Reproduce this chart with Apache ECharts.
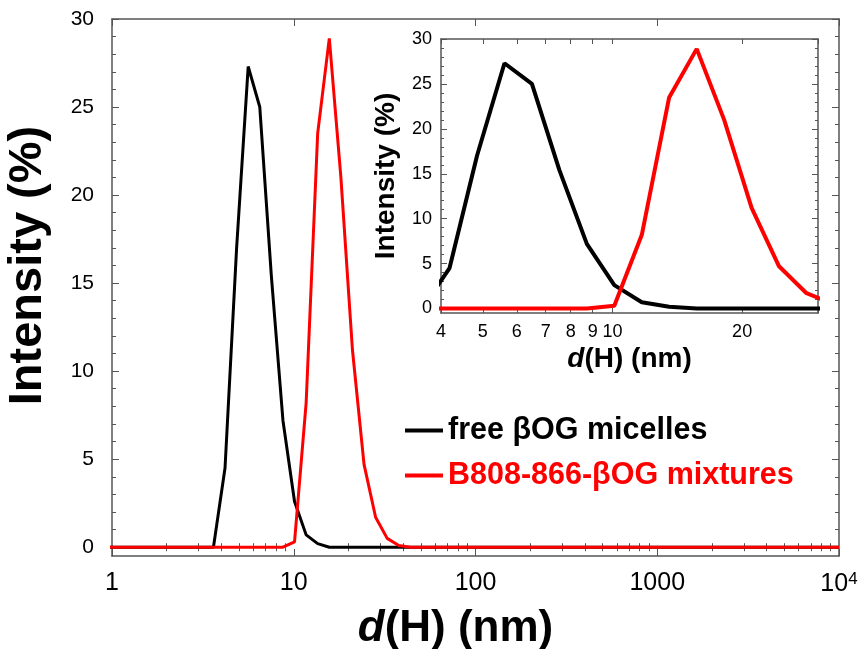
<!DOCTYPE html>
<html><head><meta charset="utf-8">
<script src="https://cdn.jsdelivr.net/npm/echarts@6/dist/echarts.min.js"></script>
<style>html,body{margin:0;padding:0;background:#fff}#c{width:862px;height:649px}</style>
</head><body><div id="c"></div>
<script>
// DLS size bins (nm)
const diameters = [0.4,0.4632,0.5365,0.6213,0.7195,0.8332,0.9649,1.117,1.294,1.499,1.736,2.01,2.328,2.696,3.122,3.615,4.187,4.849,5.615,6.503,7.531,8.721,10.1,11.7,13.54,15.69,18.17,21.04,24.36,28.21,32.67,37.84,43.82,50.75,58.77,68.06,78.82,91.28,105.7,122.4,141.8,164.2,190.1,220.2,255,295.3,342,396.1,458.7,531.2,615.1,712.4,825,955.4,1106,1281,1484,1718,1990,2305,2669,3091,3580,4145,4801,5560,6439,7456,8635,10000];
// Intensity (%) — free βOG micelles
const freeMicelles = [0,0,0,0,0,0,0,0,0,0,0,0,0,0,0,0,4.5,17.0,27.3,25.0,15.4,7.2,2.6,0.7,0.2,0,0,0,0,0,0,0,0,0,0,0,0,0,0,0,0,0,0,0,0,0,0,0,0,0,0,0,0,0,0,0,0,0,0,0,0,0,0,0,0,0,0,0,0,0];
// Intensity (%) — B808-866-βOG mixtures
const mixtures = [0,0,0,0,0,0,0,0,0,0,0,0,0,0,0,0,0,0,0,0,0,0,0.3,8.2,23.5,28.9,21.0,11.2,4.7,1.7,0.5,0.1,0,0,0,0,0,0,0,0,0,0,0,0,0,0,0,0,0,0,0,0,0,0,0,0,0,0,0,0,0,0,0,0,0,0,0,0,0,0];
const seriesNames = ['free βOG micelles', 'B808-866-βOG mixtures'];
const mainXTicks = [1, 10, 100, 1000, 10000];
const mainYTicks = [0, 5, 10, 15, 20, 25, 30];
const insetXTicks = [4, 5, 6, 7, 8, 9, 10, 20];
const insetYTicks = [0, 5, 10, 15, 20, 25, 30];

const FF = 'Liberation Sans, Arial, Helvetica, sans-serif';
const FRAME = '#555';

const mainXMinor = [];
for (let dec = 1; dec < 10000; dec *= 10) for (let k = 2; k <= 9; k++) mainXMinor.push(k * dec);
const yMinor = [];
for (let v = 1; v < 30; v++) if (v % 5) yMinor.push(v);

const toPts = arr => diameters.map((d, i) => [d, arr[i]]);

function xAx(grid, pos, min, max, ticks, len, opts) {
  return Object.assign({
    type: 'log', logBase: 10, gridIndex: grid, position: pos, min: min, max: max,
    axisLine: { show: true, onZero: false, lineStyle: { color: FRAME, width: 1.5 } },
    axisTick: { show: true, inside: true, length: len, customValues: ticks, lineStyle: { color: FRAME, width: 1 } },
    axisLabel: { show: false },
    splitLine: { show: false }
  }, opts || {});
}
function yAx(grid, pos, ticks, len, opts) {
  return Object.assign({
    type: 'value', gridIndex: grid, position: pos, min: -0.5, max: 30,
    axisLine: { show: true, onZero: false, lineStyle: { color: FRAME, width: 1.5 } },
    axisTick: { show: true, inside: true, length: len, customValues: ticks, lineStyle: { color: FRAME, width: 1 } },
    axisLabel: { show: false },
    splitLine: { show: false }
  }, opts || {});
}

const option = {
  animation: false,
  backgroundColor: '#fff',
  textStyle: { fontFamily: FF },
  grid: [
    { left: 112, top: 19, width: 727, height: 537, outerBoundsMode: 'none', containLabel: false },
    { left: 441, top: 39, width: 377, height: 274, outerBoundsMode: 'none', containLabel: false }
  ],
  xAxis: [
    xAx(0, 'bottom', 1, 10000, mainXTicks, 7, {
      axisLabel: {
        show: true, customValues: mainXTicks, margin: 15, color: '#000', fontSize: 25, fontFamily: FF,
        formatter: v => v === 10000 ? '{b|10}{s|4}' : String(v),
        rich: { b: { fontSize: 25, fontFamily: FF, color: '#000', lineHeight: 26 },
                s: { fontSize: 17, fontFamily: FF, color: '#000', verticalAlign: 'top', lineHeight: 26, padding: [0, 0, 14, 0] } }
      },
      name: '{i|d}{n|(H) (nm)}', nameLocation: 'middle', nameGap: 34,
      nameTextStyle: { padding: [0, 40, 0, 0], rich: {
        i: { fontSize: 44, fontWeight: 'bold', fontStyle: 'italic', fontFamily: FF, color: '#000' },
        n: { fontSize: 44, fontWeight: 'bold', fontFamily: FF, color: '#000' } } }
    }),
    xAx(0, 'bottom', 1, 10000, mainXMinor, 4, { axisLine: { show: false } }),
    xAx(0, 'top', 1, 10000, mainXTicks, 7),
    xAx(0, 'top', 1, 10000, mainXMinor, 4, { axisLine: { show: false } }),
    xAx(1, 'bottom', 4, 30, insetXTicks.concat([30]), 5, {
      axisLabel: { show: true, customValues: insetXTicks, margin: 10, color: '#000', fontSize: 18, fontFamily: FF },
      name: '{i|d}{n|(H) (nm)}', nameLocation: 'middle', nameGap: 32,
      nameTextStyle: { rich: {
        i: { fontSize: 28, fontWeight: 'bold', fontStyle: 'italic', fontFamily: FF, color: '#000' },
        n: { fontSize: 28, fontWeight: 'bold', fontFamily: FF, color: '#000' } } }
    }),
    xAx(1, 'top', 4, 30, insetXTicks.concat([30]), 5)
  ],
  yAxis: [
    yAx(0, 'left', mainYTicks, 7, {
      axisLabel: { show: true, customValues: mainYTicks, margin: 18, color: '#000', fontSize: 21, fontFamily: FF },
      name: 'Intensity (%)', nameLocation: 'middle', nameGap: 60,
      nameTextStyle: { fontSize: 47, fontWeight: 'bold', fontFamily: FF, color: '#000', padding: [0, 0, 0, 44] }
    }),
    yAx(0, 'left', yMinor, 4, { axisLine: { show: false } }),
    yAx(0, 'right', mainYTicks, 7),
    yAx(0, 'right', yMinor, 4, { axisLine: { show: false } }),
    yAx(1, 'left', insetYTicks, 6, {
      axisLabel: { show: true, customValues: insetYTicks, margin: 9, color: '#000', fontSize: 18, fontFamily: FF },
      name: 'Intensity (%)', nameLocation: 'middle', nameGap: 41,
      nameTextStyle: { fontSize: 28, fontWeight: 'bold', fontFamily: FF, color: '#000' }
    }),
    yAx(1, 'left', yMinor, 3, { axisLine: { show: false } }),
    yAx(1, 'right', insetYTicks, 6),
    yAx(1, 'right', yMinor, 3, { axisLine: { show: false } })
  ],
  legend: {
    orient: 'vertical', left: 405, top: 415, padding: 0, itemWidth: 38, itemHeight: 4, icon: 'rect', itemGap: 14,
    selectedMode: false,
    textStyle: { fontSize: 30.5, fontWeight: 'bold', fontFamily: FF },
    data: [
      { name: seriesNames[0], textStyle: { color: '#000' } },
      { name: seriesNames[1], textStyle: { color: '#ff0000' } }
    ]
  },
  series: [
    { name: seriesNames[0], type: 'line', xAxisIndex: 0, yAxisIndex: 0, data: toPts(freeMicelles),
      showSymbol: false, symbol: 'none', lineStyle: { color: '#000', width: 3 }, itemStyle: { color: '#000' } },
    { name: seriesNames[1], type: 'line', xAxisIndex: 0, yAxisIndex: 0, data: toPts(mixtures),
      showSymbol: false, symbol: 'none', lineStyle: { color: '#ff0000', width: 3 }, itemStyle: { color: '#ff0000' } },
    { name: seriesNames[0], type: 'line', xAxisIndex: 4, yAxisIndex: 4, data: toPts(freeMicelles),
      showSymbol: false, symbol: 'none', lineStyle: { color: '#000', width: 4 }, itemStyle: { color: '#000' } },
    { name: seriesNames[1], type: 'line', xAxisIndex: 4, yAxisIndex: 4, data: toPts(mixtures),
      showSymbol: false, symbol: 'none', lineStyle: { color: '#ff0000', width: 4 }, itemStyle: { color: '#ff0000' } }
  ]
};
const chart = echarts.init(document.getElementById('c'), null, { renderer: 'canvas' });
chart.setOption(option);
</script>
</body></html>
